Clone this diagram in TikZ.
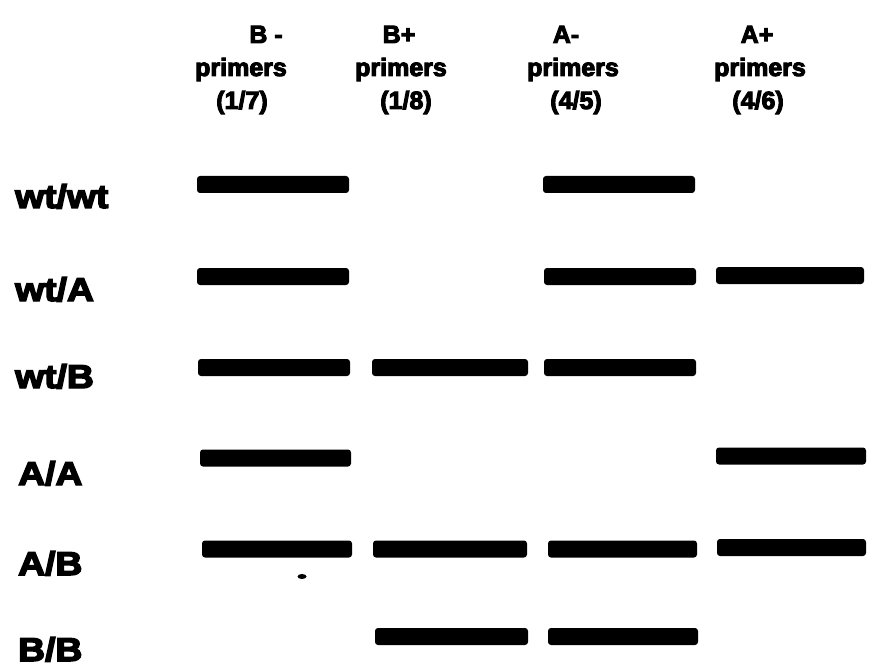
\documentclass[tikz,border=0pt]{standalone}
\usepackage{fontspec}
\newfontfamily\heavy[FakeBold=4]{Liberation Sans Bold}
\newfontfamily\heavywide[FakeBold=4.5, FakeStretch=1.13]{Liberation Sans Bold}
\tikzset{
  gelband/.style={fill=black, draw=none, rounded corners=3pt, inner sep=0pt,
                  minimum height=17pt},
  rowlabel/.style={anchor=base west, inner sep=0pt,
                   font=\heavywide\fontsize{33}{33}\selectfont},
  hdr/.style={anchor=base, inner sep=0pt,
              font=\heavy\fontsize{25}{25}\selectfont},
}
\begin{document}
\begin{tikzpicture}[x=1pt, y=-1pt]
\useasboundingbox[fill=white] (0,0) rectangle (877,668);

% column headings
\node[hdr] (h1a) at (266,43) {B -};
\node[hdr] (h1b) at (241,76) {primers};
\node[hdr] (h1c) at (242,109) {(1/7)};
\node[hdr] (h2a) at (399,43) {B+};
\node[hdr] (h2b) at (401,76) {primers};
\node[hdr] (h2c) at (406,109) {(1/8)};
\node[hdr] (h3a) at (566,43) {A-};
\node[hdr] (h3b) at (573,76) {primers};
\node[hdr] (h3c) at (576,109) {(4/5)};
\node[hdr] (h4a) at (757,43) {A+};
\node[hdr] (h4b) at (760,76) {primers};
\node[hdr] (h4c) at (758,109) {(4/6)};

% genotype labels
\node[rowlabel] (gWW) at (15,208) {wt/wt};
\node[rowlabel] (gWA) at (15,301) {wt/A};
\node[rowlabel] (gWB) at (15,388) {wt/B};
\node[rowlabel] (gAA) at (18,485) {A/A};
\node[rowlabel] (gAB) at (18,575) {A/B};
\node[rowlabel] (gBB) at (18,661) {B/B};

% PCR bands: wt/wt
\node[gelband, minimum width=152pt] (bWW1) at (273,184.5) {};
\node[gelband, minimum width=152pt] (bWW3) at (619,184.5) {};
% wt/A
\node[gelband, minimum width=152pt] (bWA1) at (273,276.5) {};
\node[gelband, minimum width=152pt] (bWA3) at (620,276.5) {};
\node[gelband, minimum width=148pt] (bWA4) at (790,275.5) {};
% wt/B
\node[gelband, minimum width=152pt] (bWB1) at (274,367.5) {};
\node[gelband, minimum width=156pt] (bWB2) at (450,367.5) {};
\node[gelband, minimum width=152pt] (bWB3) at (620,367.5) {};
% A/A
\node[gelband, minimum width=151pt] (bAA1) at (275.5,458) {};
\node[gelband, minimum width=150pt] (bAA4) at (791,456) {};
% A/B
\node[gelband, minimum width=150pt] (bAB1) at (277,549) {};
\node[gelband, minimum width=154pt] (bAB2) at (450,549) {};
\node[gelband, minimum width=149pt] (bAB3) at (622.5,549) {};
\node[gelband, minimum width=149pt] (bAB4) at (791.5,547.5) {};
% B/B
\node[gelband, minimum width=153pt] (bBB2) at (451.5,636.5) {};
\node[gelband, minimum width=150pt] (bBB3) at (623,636.5) {};

% speck below the A/B band
\fill (302,576.5) ellipse (4.5pt and 2.5pt);
\end{tikzpicture}
\end{document}
